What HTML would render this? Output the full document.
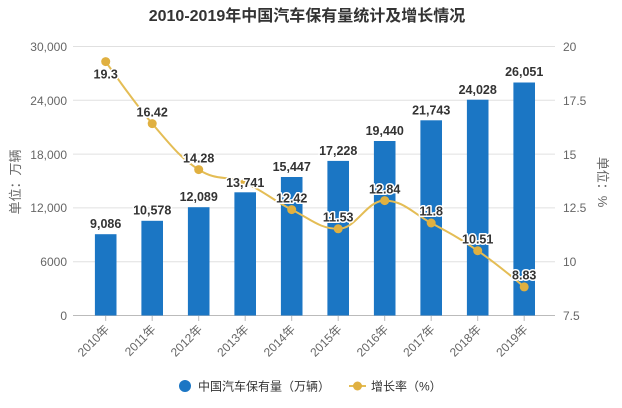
<!DOCTYPE html>
<html>
<head>
<meta charset="utf-8">
<style>
  html, body { margin:0; padding:0; background:#fff; }
  body { width:622px; height:408px; overflow:hidden; }
  svg { display:block; font-family:"Liberation Sans","Noto Sans CJK SC",sans-serif; }
  .tk { font-size:12px; fill:#666; }
  .bl { font-size:12.5px; font-weight:bold; fill:#333; stroke:#fff; stroke-width:3px; paint-order:stroke; stroke-linejoin:round; text-anchor:middle; }
</style>
</head>
<body>
<svg width="622" height="408" viewBox="0 0 622 408" xmlns="http://www.w3.org/2000/svg">
  <rect width="622" height="408" fill="#fff"/>
  <!-- title -->
  <text x="307" y="21" text-anchor="middle" font-size="16" font-weight="bold" fill="#333">2010-2019年中国汽车保有量统计及增长情况</text>

  <!-- gridlines -->
  <g stroke="#e0e0e0" stroke-width="1">
    <line x1="73" y1="46.5" x2="555" y2="46.5"/>
    <line x1="73" y1="100.3" x2="555" y2="100.3"/>
    <line x1="73" y1="154.1" x2="555" y2="154.1"/>
    <line x1="73" y1="207.9" x2="555" y2="207.9"/>
    <line x1="73" y1="261.7" x2="555" y2="261.7"/>
  </g>
  <line x1="73" y1="315.5" x2="555" y2="315.5" stroke="#bbb" stroke-width="1"/>
  <g stroke="#bbb" stroke-width="1">
    <line x1="105.7" y1="315.5" x2="105.7" y2="321"/>
    <line x1="152.2" y1="315.5" x2="152.2" y2="321"/>
    <line x1="198.7" y1="315.5" x2="198.7" y2="321"/>
    <line x1="245.2" y1="315.5" x2="245.2" y2="321"/>
    <line x1="291.7" y1="315.5" x2="291.7" y2="321"/>
    <line x1="338.2" y1="315.5" x2="338.2" y2="321"/>
    <line x1="384.7" y1="315.5" x2="384.7" y2="321"/>
    <line x1="431.2" y1="315.5" x2="431.2" y2="321"/>
    <line x1="477.7" y1="315.5" x2="477.7" y2="321"/>
    <line x1="524.2" y1="315.5" x2="524.2" y2="321"/>
  </g>

  <!-- left axis labels -->
  <g class="tk" text-anchor="end">
    <text x="67" y="51">30,000</text>
    <text x="67" y="105">24,000</text>
    <text x="67" y="159">18,000</text>
    <text x="67" y="212">12,000</text>
    <text x="67" y="266">6000</text>
    <text x="67" y="320">0</text>
  </g>
  <!-- right axis labels -->
  <g class="tk" text-anchor="start">
    <text x="563" y="51">20</text>
    <text x="563" y="105">17.5</text>
    <text x="563" y="159">15</text>
    <text x="563" y="212">12.5</text>
    <text x="563" y="266">10</text>
    <text x="563" y="320">7.5</text>
  </g>

  <!-- axis titles -->
  <text transform="translate(20,182) rotate(-90)" text-anchor="middle" font-size="13" fill="#666">单位：万辆</text>
  <text transform="translate(598,182) rotate(90)" text-anchor="middle" font-size="13" fill="#666">单位：%</text>

  <!-- bars -->
  <g fill="#1b76c4">
    <rect x="94.9" y="234.2" width="21.6" height="81.3"/>
    <rect x="141.4" y="220.8" width="21.6" height="94.7"/>
    <rect x="187.9" y="207.2" width="21.6" height="108.3"/>
    <rect x="234.4" y="192.3" width="21.6" height="123.2"/>
    <rect x="280.9" y="177.0" width="21.6" height="138.5"/>
    <rect x="327.4" y="160.9" width="21.6" height="154.6"/>
    <rect x="373.9" y="141.0" width="21.6" height="174.5"/>
    <rect x="420.4" y="120.3" width="21.6" height="195.2"/>
    <rect x="466.9" y="99.7" width="21.6" height="215.8"/>
    <rect x="513.4" y="82.5" width="21.6" height="233.0"/>
  </g>

  <!-- line -->
  <path d="M105.7,61.6 C105.7,61.6 133.6,102.0 152.2,123.6 C170.8,145.2 180.1,157.7 198.7,169.6 C217.3,181.5 226.6,174.9 245.2,182.9 C263.8,190.9 273.1,200.4 291.7,209.6 C310.3,218.8 319.6,228.8 338.2,228.8 C356.8,228.8 366.1,200.6 384.7,200.6 C403.3,200.6 412.6,213.0 431.2,223.0 C449.8,233.0 459.1,237.9 477.7,250.7 C496.3,263.5 524.2,286.9 524.2,286.9" fill="none" stroke="#e4bd55" stroke-width="2"/>
  <g fill="#e0b040">
    <circle cx="105.7" cy="61.6" r="4.5"/>
    <circle cx="152.2" cy="123.6" r="4.5"/>
    <circle cx="198.7" cy="169.6" r="4.5"/>
    <circle cx="245.2" cy="182.9" r="4.5"/>
    <circle cx="291.7" cy="209.6" r="4.5"/>
    <circle cx="338.2" cy="228.8" r="4.5"/>
    <circle cx="384.7" cy="200.6" r="4.5"/>
    <circle cx="431.2" cy="223.0" r="4.5"/>
    <circle cx="477.7" cy="250.7" r="4.5"/>
    <circle cx="524.2" cy="286.9" r="4.5"/>
  </g>

  <!-- bar labels -->
  <g class="bl">
    <text x="105.7" y="228">9,086</text>
    <text x="152.2" y="214.5">10,578</text>
    <text x="198.7" y="201">12,089</text>
    <text x="245.2" y="187">13,741</text>
    <text x="291.7" y="171">15,447</text>
    <text x="338.2" y="155">17,228</text>
    <text x="384.7" y="135">19,440</text>
    <text x="431.2" y="114.5">21,743</text>
    <text x="477.7" y="94">24,028</text>
    <text x="524.2" y="76">26,051</text>
  </g>
  <!-- line labels -->
  <g class="bl">
    <text x="105.7" y="78.5">19.3</text>
    <text x="152.2" y="116.5">16.42</text>
    <text x="198.7" y="162.5">14.28</text>
    <text x="291.7" y="202.5">12.42</text>
    <text x="338.2" y="221.5">11.53</text>
    <text x="384.7" y="193.5">12.84</text>
    <text x="431.2" y="215.5">11.8</text>
    <text x="477.7" y="243.5">10.51</text>
    <text x="524.2" y="279.5">8.83</text>
  </g>

  <!-- x labels -->
  <g class="tk" text-anchor="end">
    <text transform="translate(110,330) rotate(-45)">2010年</text>
    <text transform="translate(156.5,330) rotate(-45)">2011年</text>
    <text transform="translate(203,330) rotate(-45)">2012年</text>
    <text transform="translate(249.5,330) rotate(-45)">2013年</text>
    <text transform="translate(296,330) rotate(-45)">2014年</text>
    <text transform="translate(342.5,330) rotate(-45)">2015年</text>
    <text transform="translate(389,330) rotate(-45)">2016年</text>
    <text transform="translate(435.5,330) rotate(-45)">2017年</text>
    <text transform="translate(482,330) rotate(-45)">2018年</text>
    <text transform="translate(528.5,330) rotate(-45)">2019年</text>
  </g>

  <!-- legend -->
  <circle cx="185" cy="386" r="6" fill="#1b76c4"/>
  <text x="198" y="390.5" font-size="12" fill="#333">中国汽车保有量（万辆）</text>
  <line x1="349" y1="386" x2="366" y2="386" stroke="#e4bd55" stroke-width="2"/>
  <circle cx="357.5" cy="386" r="4.5" fill="#e0b040"/>
  <text x="371" y="390.5" font-size="12" fill="#333">增长率（%）</text>
</svg>
</body>
</html>
